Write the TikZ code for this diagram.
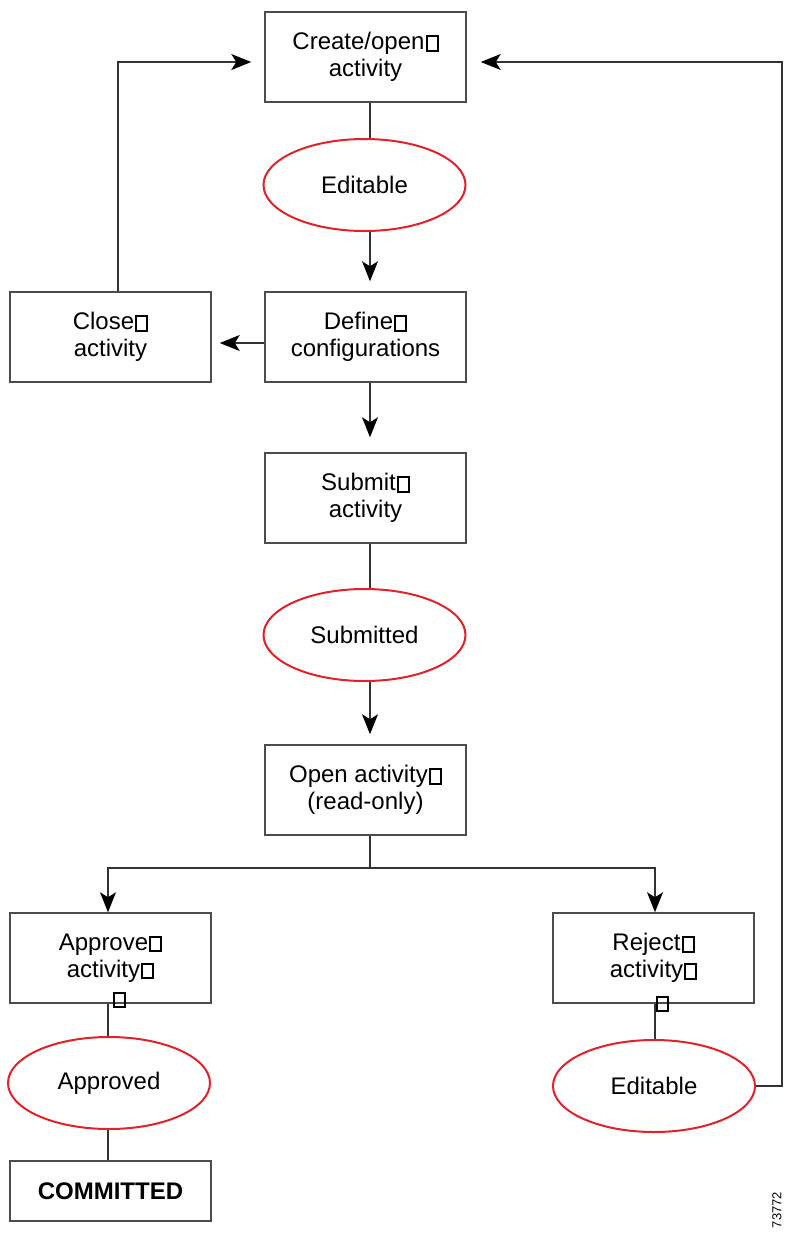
\documentclass[tikz,border=0pt]{standalone}
\usepackage{fontspec}
\setmainfont{Liberation Sans}
\usetikzlibrary{shapes.geometric,arrows.meta,calc}
\newcommand\tofu{\kern0.6pt{\fboxsep0pt\fboxrule1pt\fbox{\rule{0pt}{6.2pt}\kern4.4pt}}}
\definecolor{ellred}{RGB}{228,32,40}
\begin{document}
\begin{tikzpicture}[x=0.5pt,y=-0.5pt,
  box/.style={draw=black!70,line width=0.75pt,minimum width=100.5pt,minimum height=45pt,inner sep=0pt,align=center,font=\fontsize{12}{13.5}\selectfont},
  state/.style={ellipse,draw=ellred,line width=1pt,minimum width=101pt,minimum height=46pt,inner sep=0pt,font=\fontsize{12}{13.5}\selectfont},
  tofunode/.style={inner sep=0pt,font=\fontsize{12}{13.5}\selectfont},
  conn/.style={draw=black!80,line width=0.7pt},
  arr/.style={conn,-{Stealth[length=10pt,width=8pt,inset=2.5pt,fill=black,color=black]}}
]
\useasboundingbox (0,0) rectangle (784,1233);

\node[box] (create) at (365.5,57) {Create/open\tofu\\activity};
\node[state] (edit1) at (364.5,185) {Editable};
\node[box] (define) at (365.5,337) {Define\tofu\\configurations};
\node[box] (close) at (110.5,337) {Close\tofu\\activity};
\node[box] (submit) at (365.5,498) {Submit\tofu\\activity};
\node[state] (submitted) at (364.5,635) {Submitted};
\node[box] (open) at (365.5,790) {Open activity\tofu\\(read-only)};
\node[box] (approve) at (110.5,958) {Approve\tofu\\activity\tofu};
\node[tofunode] (approvetofu) at (118.5,1000) {\tofu};
\node[state] (approved) at (109,1083) {Approved};
\node[box,minimum height=30pt] (committed) at (110.5,1191) {\bfseries COMMITTED};
\node[box] (reject) at (653.5,958) {Reject\tofu\\activity\tofu};
\node[tofunode] (rejecttofu) at (661.5,1004) {\tofu};
\node[state] (edit2) at (654,1086) {Editable};
\node[font=\fontsize{6.5}{7}\selectfont,rotate=90,inner sep=0pt] (figid) at (777,1210) {73772};

\coordinate (cx) at (370,0);
\coordinate (lx) at (108,0);
\coordinate (rx) at (655,0);
\coordinate (closex) at (118,0);
\coordinate (topy) at (0,62);
\coordinate (branchy) at (0,868);
\coordinate (rightx) at (782,0);
\coordinate (closey) at (0,343);

\draw[conn] (create.south -| cx) -- (edit1.north -| cx);
\draw[arr,shorten >=5pt] (edit1.south -| cx) -- (define.north -| cx);
\draw[arr,shorten >=4pt] (define.west |- closey) -- (close.east |- closey);
\draw[arr,shorten >=6.5pt] (close.north -| closex) -- (closex |- topy) -- (create.west |- topy);
\draw[arr,shorten >=7.5pt] (define.south -| cx) -- (submit.north -| cx);
\draw[conn] (submit.south -| cx) -- (submitted.north -| cx);
\draw[arr,shorten >=5pt] (submitted.south -| cx) -- (open.north -| cx);
\draw[conn] (open.south -| cx) -- (cx |- branchy);
\draw[arr] (cx |- branchy) -- (lx |- branchy) -- (approve.north -| lx);
\draw[arr] (cx |- branchy) -- (rx |- branchy) -- (reject.north -| rx);
\draw[conn] (approve.south -| lx) -- (approved.north -| lx);
\draw[conn] (approved.south -| lx) -- (committed.north -| lx);
\draw[conn] (reject.south -| rx) -- (edit2.north -| rx);
\draw[arr,shorten >=7pt] (edit2.east) -- (rightx |- edit2.east) -- (rightx |- topy) -- (create.east |- topy);
\end{tikzpicture}
\end{document}
